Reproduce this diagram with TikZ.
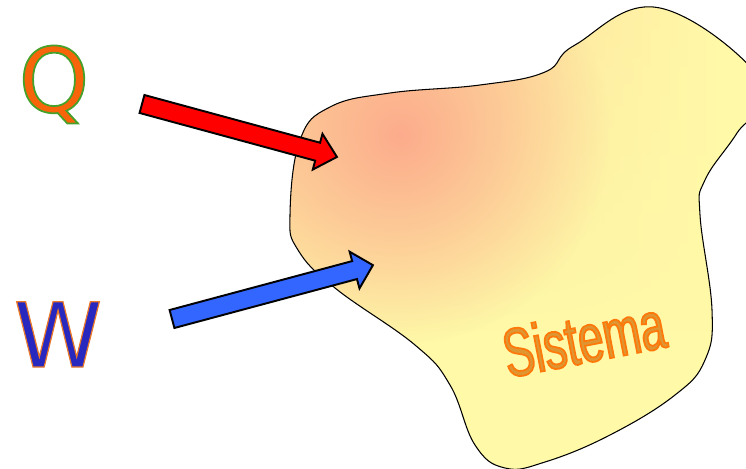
\documentclass[tikz,border=0pt]{standalone}
\usepackage{fontspec}
\setmainfont{Liberation Sans}
\newfontfamily\letterfont{DejaVu Sans}
\newfontfamily\labelfont[FakeStretch=0.66]{Liberation Sans}
\usetikzlibrary{fadings}
\definecolor{systemYellow}{RGB}{255, 249, 168}
\definecolor{systemOrange}{RGB}{252, 196, 146}
\definecolor{systemSalmon}{RGB}{252, 172, 140}
\definecolor{heatRed}{RGB}{255, 0, 0}
\definecolor{workBlue}{RGB}{51, 102, 255}
\definecolor{heatOrange}{RGB}{248, 100, 10}
\definecolor{workIndigo}{RGB}{40, 40, 190}
\definecolor{labelFill}{RGB}{222, 150, 50}
\tikzfading[name=glowfade, inner color=transparent!0, outer color=transparent!100]
\tikzfading[name=downfade, top color=transparent!0, bottom color=transparent!100]
% filled and stroked glyphs: {stroke rgb}{width}{text}
\newcommand\strokedtext[3]{%
  \special{pdf:literal direct 2 Tr #2 w #1 RG}#3%
  \special{pdf:literal direct 0 Tr 0 0 0 RG}}

\begin{document}
\begin{tikzpicture}[
  x=0.02cm, y=-0.02cm,
  blockarrow/.style={
    draw=black,
    line width=1.1pt,
    line join=miter
  },
  letter/.style={
    inner sep=0pt,
    font=\letterfont\fontsize{51}{51}\selectfont
  },
  outline/.style={line width=0.6pt}
]
  \useasboundingbox (0,0) rectangle (746,469);

  % the system
  \begin{scope}
    \clip (0,0) rectangle (746,469);
    \path[save path=\systempath] plot[smooth cycle, tension=0.7] coordinates {
      (290,215) (300,140) (330,107) (390,93) (480,85) (545,72) (575,45)
      (660,8) (765,85) (737,133) (705,180) (700,215) (712,310) (705,360)
      (675,395) (610,435) (545,462) (505,468) (475,445) (450,385)
      (415,345) (335,288) (298,250)};
    \fill[systemYellow, use path=\systempath];
    \begin{scope}
      \path[clip, use path=\systempath];
      \shade[left color=systemOrange, right color=systemYellow, path fading=downfade]
        (230,-20) rectangle (720,330);
      \fill[systemSalmon, path fading=glowfade] (400,135) circle (210);
    \end{scope}
    \draw[outline, use path=\systempath];
  \end{scope}

  \node[anchor=base west, rotate=11, inner sep=0pt, text=labelFill,
    font=\labelfont\fontsize{39}{39}\selectfont] (system) at (508,378)
    {\strokedtext{1 0.47 0.04}{1}{Sistema}};

  % heat and work
  \node[letter, anchor=base, text=heatOrange] (heat) at (54,112)
    {\strokedtext{0.27 0.63 0.16}{1}{Q}};
  \node[letter, anchor=base, text=workIndigo] (work) at (58,367)
    {\strokedtext{0.92 0.47 0.16}{0.7}{W}};

  \begin{scope}[shift={(142,104)}, rotate=-15.2]
    \draw[blockarrow, fill=heatRed] (0,-9.3) -- (182,-9.3) -- (182,-18.5)
      -- (202,0) -- (182,18.5) -- (182,9.3) -- (0,9.3) -- cycle;
  \end{scope}
  \begin{scope}[shift={(172,319)}, rotate=15]
    \draw[blockarrow, fill=workBlue] (0,-9.3) -- (189,-9.3) -- (189,-19)
      -- (208,0) -- (189,19) -- (189,9.3) -- (0,9.3) -- cycle;
  \end{scope}
\end{tikzpicture}
\end{document}
